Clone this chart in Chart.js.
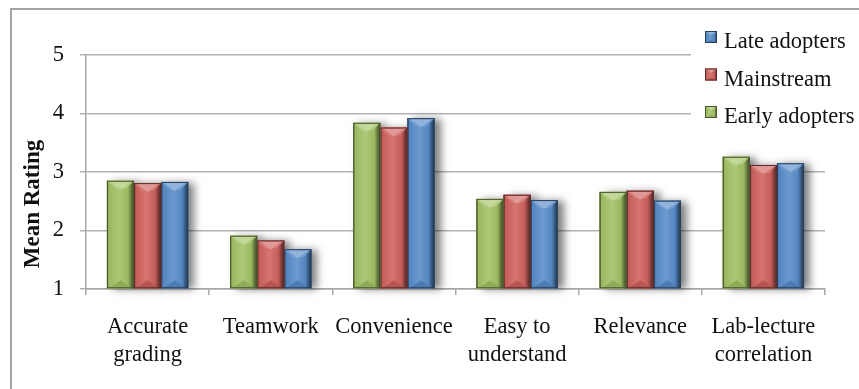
<!DOCTYPE html>
<html>
<head>
<meta charset="utf-8">
<title>Mean Rating by adopter group</title>
<script src="https://cdn.jsdelivr.net/npm/chart.js@4/dist/chart.umd.min.js"></script>
<style>
  html, body { margin: 0; padding: 0; background: #fff; }
  #wrap { width: 859px; height: 389px; position: relative; }
</style>
</head>
<body>
<div id="wrap"><canvas id="c" width="859" height="389"></canvas></div>
<script>
// Categories along the x axis (multi-line labels as arrays)
const categories = [
  ["Accurate", "grading"],
  "Teamwork",
  "Convenience",
  ["Easy to", "understand"],
  "Relevance",
  ["Lab-lecture", "correlation"]
];

// Mean rating per group
const earlyAdopters = [2.85, 1.91, 3.84, 2.54, 2.66, 3.26];
const mainstream    = [2.81, 1.83, 3.76, 2.61, 2.68, 3.12];
const lateAdopters  = [2.83, 1.68, 3.92, 2.52, 2.51, 3.15];

const seriesNames = ["Early adopters", "Mainstream", "Late adopters"];
const yTicks = [1, 2, 3, 4, 5];
const yTitle = "Mean Rating";

const SERIF = "'Liberation Serif', 'Times New Roman', serif";
const colors = ["#a2c265", "#cf625e", "#588cc9"];

function shade(hex, amt) {
  const n = parseInt(hex.slice(1), 16);
  let r = (n >> 16) & 255, g = (n >> 8) & 255, b = n & 255;
  const f = c => amt >= 0 ? Math.round(c + (255 - c) * amt) : Math.round(c * (1 + amt));
  return `rgb(${f(r)},${f(g)},${f(b)})`;
}

// Beveled look painted over each bar, using the bar element geometry
function bevel(ctx, x0, x1, top, bot, color) {
  const w = x1 - x0, xc = (x0 + x1) / 2;
  const b = Math.min(8, w * 0.3, (bot - top) / 2);
  const g = ctx.createLinearGradient(x0, 0, x1, 0);
  g.addColorStop(0, shade(color, -0.45));
  g.addColorStop(0.07, shade(color, -0.05));
  g.addColorStop(0.45, shade(color, 0.12));
  g.addColorStop(0.78, shade(color, -0.05));
  g.addColorStop(0.9, shade(color, -0.4));
  g.addColorStop(1, shade(color, -0.6));
  ctx.fillStyle = g;
  ctx.fillRect(x0, top, w, bot - top);
  // top face
  ctx.beginPath();
  ctx.moveTo(x0, top); ctx.lineTo(x1, top); ctx.lineTo(x1 - b, top + b); ctx.lineTo(x0 + b, top + b);
  ctx.closePath();
  ctx.fillStyle = shade(color, 0.15);
  ctx.fill();
  ctx.beginPath();
  ctx.moveTo(x0 + 3, top + 1); ctx.lineTo(x1 - 3, top + 1); ctx.lineTo(xc, top + b + 1);
  ctx.closePath();
  ctx.fillStyle = shade(color, 0.35);
  ctx.fill();
  // bottom face
  ctx.beginPath();
  ctx.moveTo(x0 + 2, bot); ctx.lineTo(x1 - 2, bot); ctx.lineTo(xc, bot - b);
  ctx.closePath();
  ctx.fillStyle = shade(color, -0.12);
  ctx.fill();
  ctx.strokeStyle = shade(color, -0.55);
  ctx.lineWidth = 1;
  ctx.strokeRect(x0 + 0.5, top + 0.5, w - 1, bot - top - 1);
}

const decor = {
  id: "decor",
  beforeDraw(chart) {
    const ctx = chart.ctx;
    ctx.save();
    ctx.fillStyle = "#fff";
    ctx.fillRect(0, 0, chart.width, chart.height);
    ctx.strokeStyle = "#a3a3a3";
    ctx.lineWidth = 2;
    ctx.strokeRect(11, 9, chart.width + 20, chart.height + 20);
    ctx.restore();
  },
  beforeDatasetsDraw(chart) {
    // soft drop shadow to the right of the bars
    const ctx = chart.ctx;
    ctx.save();
    ctx.shadowColor = "rgba(0,0,0,0.5)";
    ctx.shadowBlur = 8;
    ctx.shadowOffsetX = 6;
    ctx.shadowOffsetY = 1;
    chart.data.datasets.forEach((ds, i) => {
      chart.getDatasetMeta(i).data.forEach(el => {
        const p = el.getProps(["x", "y", "base", "width"], true);
        ctx.fillStyle = colors[i];
        ctx.fillRect(p.x - p.width / 2, p.y, p.width, p.base - p.y);
      });
    });
    ctx.restore();
  },
  afterDatasetDraw(chart, args) {
    const ctx = chart.ctx;
    const i = args.index;
    ctx.save();
    args.meta.data.forEach(el => {
      const p = el.getProps(["x", "y", "base", "width"], true);
      bevel(ctx, p.x - p.width / 2, p.x + p.width / 2, p.y, p.base, colors[i]);
    });
    ctx.restore();
  },
  afterDraw(chart) {
    const ctx = chart.ctx;
    ctx.save();
    // y axis title
    ctx.translate(33, 204);
    ctx.rotate(-Math.PI / 2);
    ctx.font = "bold 23px " + SERIF;
    ctx.fillStyle = "#111";
    ctx.textAlign = "center";
    ctx.textBaseline = "middle";
    ctx.fillText(yTitle, 0, 0);
    ctx.restore();

    // legend, listed in reverse series order
    ctx.save();
    ctx.fillStyle = "#fff";
    ctx.fillRect(691, 16, 168, 118);
    ctx.font = "22.5px " + SERIF;
    ctx.textBaseline = "alphabetic";
    ctx.textAlign = "left";
    const order = [2, 1, 0];
    order.forEach((di, row) => {
      const base = 48 + row * 37.5;
      bevel(ctx, 705, 717, base - 17, base - 5, colors[di]);
      ctx.fillStyle = "#111";
      ctx.fillText(chart.data.datasets[di].label, 724, base);
    });
    ctx.restore();
  }
};

const seriesValues = [earlyAdopters, mainstream, lateAdopters];

new Chart(document.getElementById("c"), {
  type: "bar",
  data: {
    labels: categories,
    datasets: seriesNames.map((name, i) => ({
      label: name,
      data: seriesValues[i],
      base: yTicks[0],
      backgroundColor: colors[i],
      borderWidth: 0,
      categoryPercentage: 0.66,
      barPercentage: 1.0
    }))
  },
  options: {
    responsive: false,
    animation: false,
    events: [],
    layout: { padding: { top: 55, right: 34, left: 0, bottom: 0 } },
    plugins: { legend: { display: false }, tooltip: { enabled: false } },
    scales: {
      x: {
        grid: { display: true, drawOnChartArea: false, offset: true, tickLength: 6, color: "#a6a6a6", lineWidth: 1.5 },
        border: { color: "#a6a6a6", width: 1.5 },
        ticks: {
          font: { family: SERIF, size: 22.5, lineHeight: 1.25 },
          color: "#111",
          padding: 18,
          maxRotation: 0,
          autoSkip: false
        },
        afterFit(scale) { scale.height = 100; }
      },
      y: {
        min: 1,
        max: 5,
        afterBuildTicks(scale) { scale.ticks = yTicks.map(v => ({ value: v })); },
        grid: { color: "#b3b3b3", lineWidth: 1.5, tickLength: 6 },
        border: { color: "#a6a6a6", width: 1.5 },
        ticks: {
          font: { family: SERIF, size: 22.5 },
          color: "#111",
          padding: 16
        },
        afterFit(scale) { scale.width = 86; }
      }
    }
  },
  plugins: [decor]
});
</script>
</body>
</html>
